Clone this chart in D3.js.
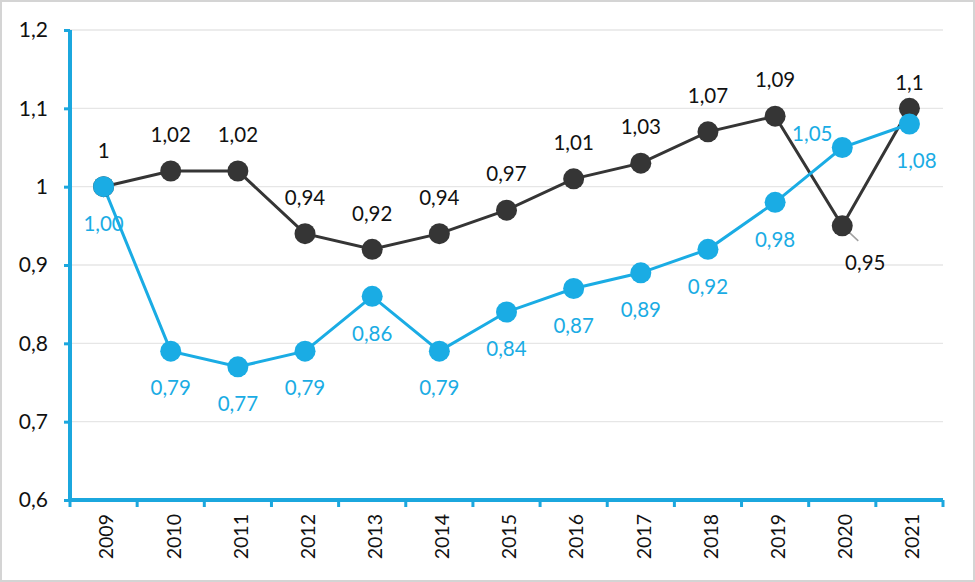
<!DOCTYPE html>
<html><head><meta charset="utf-8">
<script src="https://cdn.jsdelivr.net/npm/d3@7"></script>
<style>body{margin:0;background:#fff}svg{display:block}</style>
</head><body>
<svg id="c" width="975" height="582"></svg>
<script>
const years = ["2009","2010","2011","2012","2013","2014","2015","2016","2017","2018","2019","2020","2021"];
const blackValues = [1, 1.02, 1.02, 0.94, 0.92, 0.94, 0.97, 1.01, 1.03, 1.07, 1.09, 0.95, 1.1];
const blackLabels = ["1","1,02","1,02","0,94","0,92","0,94","0,97","1,01","1,03","1,07","1,09","0,95","1,1"];
const blueValues = [1.00, 0.79, 0.77, 0.79, 0.86, 0.79, 0.84, 0.87, 0.89, 0.92, 0.98, 1.05, 1.08];
const blueLabels = ["1,00","0,79","0,77","0,79","0,86","0,79","0,84","0,87","0,89","0,92","0,98","1,05","1,08"];
const yTicks = [0.6, 0.7, 0.8, 0.9, 1.0, 1.1, 1.2];
const yTickLabels = ["0,6","0,7","0,8","0,9","1","1,1","1,2"];

const svg = d3.select("#c");
const font = "Lato, 'Noto Sans', sans-serif";
const BLUE = "#1AACE4", DARK = "#353535", AXIS = "#1BA7DE";

svg.append("rect").attr("x",1).attr("y",1).attr("width",973).attr("height",580)
  .attr("fill","#fff").attr("stroke","#d4d4d4").attr("stroke-width",2);

const x = d3.scaleBand().domain(years).range([70, 943]);
const y = d3.scaleLinear().domain([0.6, 1.2]).range([500, 30]);
const cx = d => x(d) + x.bandwidth()/2;

// gridlines
svg.append("g").selectAll("line").data(yTicks.slice(1)).join("line")
  .attr("x1",70).attr("x2",943).attr("y1",d=>y(d)).attr("y2",d=>y(d))
  .attr("stroke","#e6e6e6").attr("stroke-width",1.3);

// y axis
const yAxis = svg.append("g").attr("transform","translate(70,0)")
  .call(d3.axisLeft(y).tickValues(yTicks).tickSize(6).tickPadding(16)
    .tickFormat((d,i)=>yTickLabels[i]));
yAxis.select(".domain").attr("stroke",AXIS).attr("stroke-width",4).attr("d","M0,30V500");
yAxis.selectAll(".tick line").attr("stroke",AXIS).attr("stroke-width",3);
yAxis.selectAll(".tick text").attr("font-family",font).attr("font-size",21).attr("fill","#111");

// x axis
const xAxis = svg.append("g").attr("transform","translate(0,500)")
  .call(d3.axisBottom(x).tickSize(0).tickFormat(d=>d));
xAxis.select(".domain").attr("stroke",AXIS).attr("stroke-width",4).attr("d","M70,0H943");
xAxis.selectAll(".tick text").attr("font-family",font).attr("font-size",19.5).attr("fill","#111")
  .attr("text-anchor","end").attr("dy","0.35em")
  .attr("transform","translate(3,0) rotate(-90)").attr("x",-14).attr("y",0);
// boundary ticks
const bounds = years.map(d=>x(d)).concat([943]);
svg.append("g").selectAll("line").data(bounds).join("line")
  .attr("x1",d=>d).attr("x2",d=>d).attr("y1",500).attr("y2",507)
  .attr("stroke",AXIS).attr("stroke-width",3);

// lines
const line = vals => d3.line().x((d,i)=>cx(years[i])).y(d=>y(d))(vals);
svg.append("path").attr("d",line(blackValues)).attr("fill","none").attr("stroke",DARK).attr("stroke-width",3);
svg.append("path").attr("d",line(blueValues)).attr("fill","none").attr("stroke",BLUE).attr("stroke-width",3);

// leader line for 2020 black label
svg.append("line").attr("x1",cx("2020")).attr("y1",y(0.95)).attr("x2",cx("2020")+16).attr("y2",y(0.95)+15)
  .attr("stroke","#a0a0a0").attr("stroke-width",1.5);

svg.append("g").selectAll("circle").data(blackValues).join("circle")
  .attr("cx",(d,i)=>cx(years[i])).attr("cy",d=>y(d)).attr("r",10.5).attr("fill",DARK);
svg.append("g").selectAll("circle").data(blueValues).join("circle")
  .attr("cx",(d,i)=>cx(years[i])).attr("cy",d=>y(d)).attr("r",10.5).attr("fill",BLUE);

// labels
const blackOff = (i) => i===11 ? [23, 37] : (i===12 ? [0,-26] : [0,-36]);
const blueOff = (i) => i===11 ? [-30,-14] : (i===12 ? [7,37] : [0,37]);
svg.append("g").selectAll("text").data(blackValues).join("text")
  .attr("x",(d,i)=>cx(years[i])+blackOff(i)[0]).attr("y",(d,i)=>y(d)+blackOff(i)[1])
  .attr("dy","0.35em").attr("text-anchor","middle").attr("font-family",font).attr("font-size",20.5)
  .attr("fill","#111").text((d,i)=>blackLabels[i]);
svg.append("g").selectAll("text").data(blueValues).join("text")
  .attr("x",(d,i)=>cx(years[i])+blueOff(i)[0]).attr("y",(d,i)=>y(d)+blueOff(i)[1])
  .attr("dy","0.35em").attr("text-anchor","middle").attr("font-family",font).attr("font-size",20.5)
  .attr("fill",BLUE).text((d,i)=>blueLabels[i]);
</script>
</body></html>
